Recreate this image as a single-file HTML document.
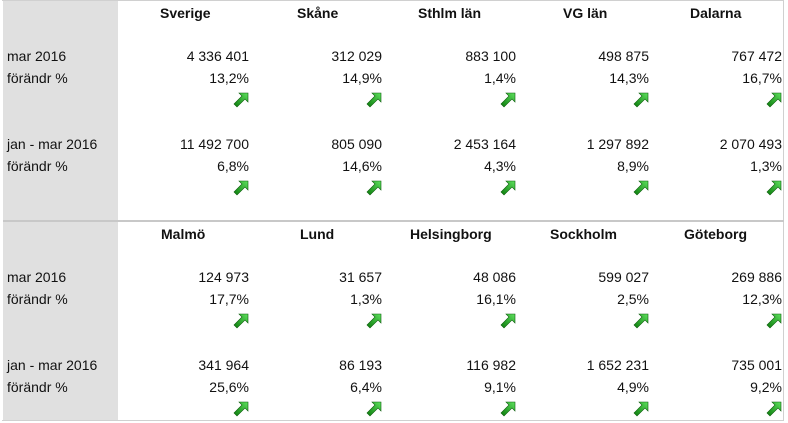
<!DOCTYPE html>
<html><head><meta charset="utf-8">
<style>
body{margin:0;width:788px;height:423px;background:#fff;position:relative;overflow:hidden;font-family:"Liberation Sans",Calibri,sans-serif;font-size:14px;color:#111}
.abs{position:absolute;white-space:nowrap;line-height:16px}
.hdr{font-weight:bold}
.num{text-align:right}
</style></head><body>
<div style="position:absolute;left:2px;top:0;width:781px;height:419px;border:1px solid #d0d0d0;border-left:none;"></div>
<div style="position:absolute;left:3px;top:1px;width:115px;height:419px;background:#e0e0e0"></div>
<div style="position:absolute;left:3px;top:220px;width:781px;height:2px;background:#c8c8c8"></div>
<div id="root"></div>
<script>
const topRegions=["Sverige","Skåne","Sthlm län","VG län","Dalarna"];
const topMar=["4 336 401","312 029","883 100","498 875","767 472"];
const topMarPct=["13,2%","14,9%","1,4%","14,3%","16,7%"];
const topJan=["11 492 700","805 090","2 453 164","1 297 892","2 070 493"];
const topJanPct=["6,8%","14,6%","4,3%","8,9%","1,3%"];
const botRegions=["Malmö","Lund","Helsingborg","Sockholm","Göteborg"];
const botMar=["124 973","31 657","48 086","599 027","269 886"];
const botMarPct=["17,7%","1,3%","16,1%","2,5%","12,3%"];
const botJan=["341 964","86 193","116 982","1 652 231","735 001"];
const botJanPct=["25,6%","6,4%","9,1%","4,9%","9,2%"];
const colRight=[249,382,516,649,782];
const colHdrX=[[160,297,418,563,690],[161,300,410,550,684]];
const root=document.getElementById('root');
function txt(s,x,y,cls,name,right){
  const d=document.createElement('div');
  d.className='abs '+cls;
  d.textContent=s;
  d.style.top=(y-7)+'px';
  if(right){d.style.right=(788-x)+'px';}else{d.style.left=x+'px';}
  
  
  root.appendChild(d);
}
function arrow(x,y){
  const s=document.createElementNS('http://www.w3.org/2000/svg','svg');
  s.setAttribute('width','16');s.setAttribute('height','16');
  s.style.position='absolute';s.style.left=(x-16)+'px';s.style.top=(y-8)+'px';
  s.innerHTML='<defs><linearGradient id="g" x1="0" y1="1" x2="1" y2="0"><stop offset="0" stop-color="#0a7a0a"/><stop offset="1" stop-color="#5ee05e"/></linearGradient></defs><path d="M1 12 L9 4 L6 1 L15 1 L15 10 L12 7 L4 15 Z" fill="url(#g)" stroke="#0b5d0b" stroke-width="0.6"/>';
  
  
  root.appendChild(s);
}
const sections=[
 {y:0,regions:topRegions,mar:topMar,marPct:topMarPct,jan:topJan,janPct:topJanPct},
 {y:221,regions:botRegions,mar:botMar,marPct:botMarPct,jan:botJan,janPct:botJanPct}];
sections.forEach((sec,si)=>{
  const o=sec.y;
  txt('mar 2016',7,o+55,'','row-label-mar');
  txt('förändr %',7,o+77,'','row-label-change');
  txt('jan - mar 2016',7,o+143,'','row-label-jan-mar');
  txt('förändr %',7,o+165,'','row-label-change');
  sec.regions.forEach((r,i)=>{
    txt(r,colHdrX[si][i],o+12,'hdr','region-header');
    txt(sec.mar[i],colRight[i],o+55,'num','mar-value',true);
    txt(sec.marPct[i],colRight[i],o+77,'num','mar-change',true);
    arrow(colRight[i],o+100);
    txt(sec.jan[i],colRight[i],o+143,'num','jan-mar-value',true);
    txt(sec.janPct[i],colRight[i],o+165,'num','jan-mar-change',true);
    arrow(colRight[i],o+188);
  });
});
</script>
</body></html>
